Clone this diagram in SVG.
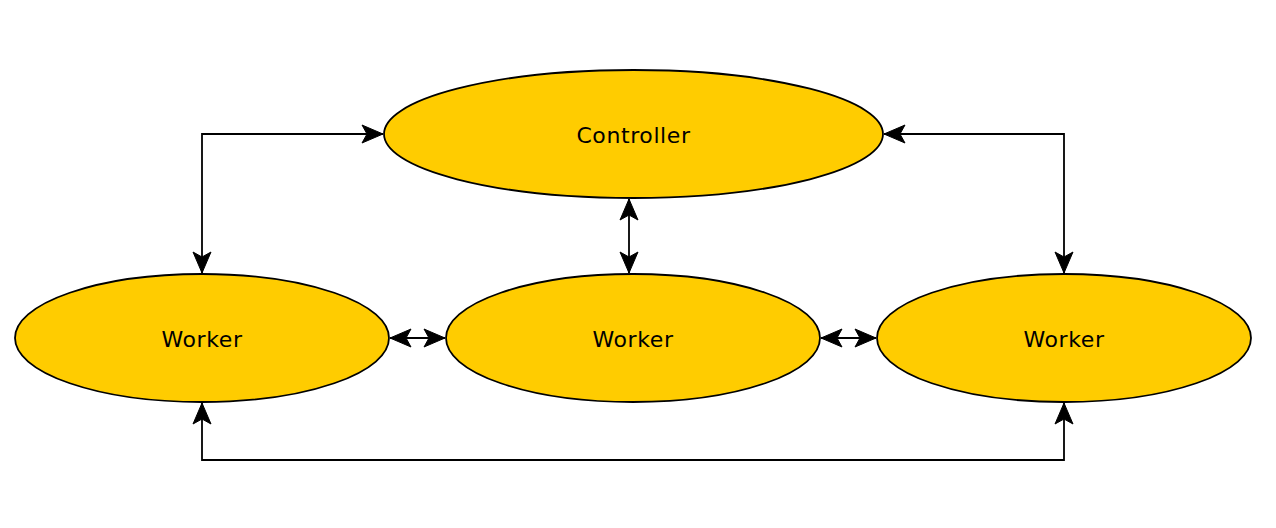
<svg xmlns="http://www.w3.org/2000/svg" width="1276" height="528" viewBox="0 0 1276 528">
<defs>
<style>
.node ellipse{fill:#ffcc00;stroke:#000;stroke-width:1.8}
.node text{font-family:"DejaVu Sans",Verdana,sans-serif;font-size:22px;letter-spacing:0.6px;fill:#000;text-anchor:middle;dominant-baseline:central}
.edge{fill:none;stroke:#000;stroke-width:1.8;marker-start:url(#arr);marker-end:url(#arr)}
</style>
<marker id="arr" markerUnits="userSpaceOnUse" markerWidth="24" markerHeight="22" viewBox="-23 -11 24 22" refX="0" refY="0" orient="auto-start-reverse">
<path d="M0,0 L-21,-9 L-16,0 L-21,9 Z" fill="#000" stroke="#000" stroke-width="1"/>
</marker>
</defs>
<rect width="1276" height="528" fill="#fff"/>
<g id="connectors">
<path class="edge" d="M202,273 L202,134 L383,134"/>
<path class="edge" d="M884,134 L1064,134 L1064,273"/>
<path class="edge" d="M629,199 L629,273"/>
<path class="edge" d="M390,338 L445,338"/>
<path class="edge" d="M821,338 L876,338"/>
<path class="edge" d="M202,403 L202,460 L1064,460 L1064,403"/>
</g>
<g id="controller" class="node">
<ellipse cx="633.5" cy="134" rx="249.5" ry="64"/>
<text x="633.5" y="135">Controller</text>
</g>
<g id="worker-left" class="node">
<ellipse cx="202" cy="338" rx="187" ry="64"/>
<text x="202" y="339">Worker</text>
</g>
<g id="worker-middle" class="node">
<ellipse cx="633" cy="338" rx="187" ry="64"/>
<text x="633" y="339">Worker</text>
</g>
<g id="worker-right" class="node">
<ellipse cx="1064" cy="338" rx="187" ry="64"/>
<text x="1064" y="339">Worker</text>
</g>
</svg>
